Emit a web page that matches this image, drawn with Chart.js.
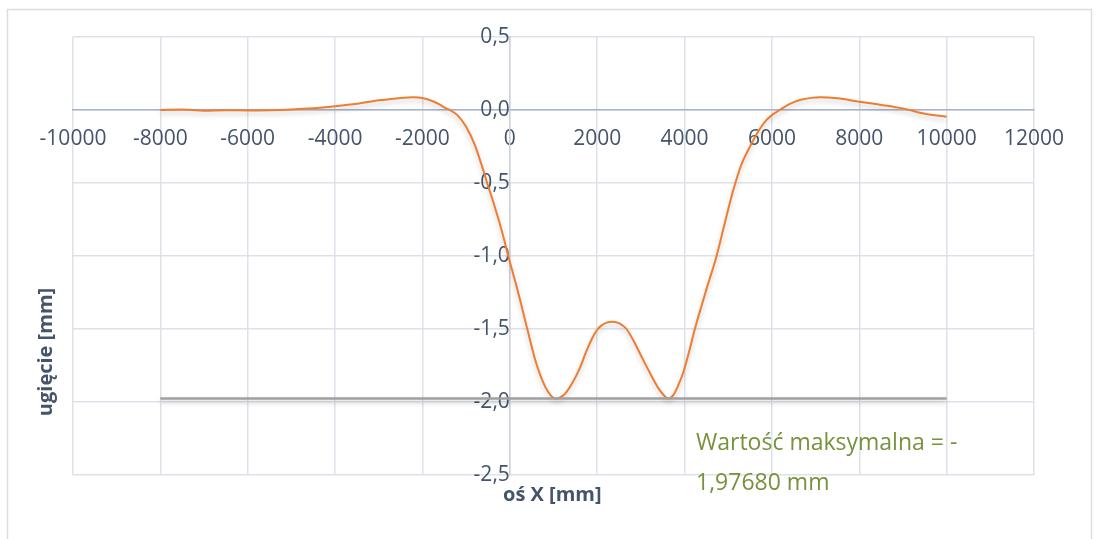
<!DOCTYPE html>
<html>
<head>
<meta charset="utf-8">
<script src="https://cdn.jsdelivr.net/npm/chart.js@4.4.1/dist/chart.umd.min.js"></script>
<style>
  body { margin: 0; background: #fff; }
  canvas { display: block; }
</style>
</head>
<body>
<canvas id="canvas" width="1097" height="539"></canvas>
<script>
// deflection along the beam
let xPos = [-8000, -7500, -7000, -6500, -6000, -5500, -5000, -4500, -4000, -3500,
  -3000, -2500, -2200, -2000, -1750, -1600, -1500, -1374, -1200, -1000,
  -800, -600, -519, -400, -200, 0, 200, 400, 600, 800,
  950, 1069, 1200, 1300, 1450, 1600, 1756, 1900, 2000, 2100,
  2200, 2340, 2480, 2580, 2672, 2824, 3000, 3206, 3400, 3530,
  3626, 3750, 3850, 3969, 4100, 4236, 4400, 4504, 4733, 4900,
  5000, 5114, 5300, 5496, 5700, 5878, 6000, 6183, 6400, 6641,
  6900, 7100, 7500, 8000, 8500, 9000, 9500, 10000];
let deflection = [0.000, 0.004, -0.005, -0.002, -0.003, -0.001, 0.004, 0.012, 0.026, 0.043,
  0.066, 0.083, 0.087, 0.082, 0.058, 0.036, 0.018, 0.000, -0.035, -0.115,
  -0.240, -0.420, -0.500, -0.610, -0.810, -1.040, -1.260, -1.500, -1.730, -1.890,
  -1.960, -1.977, -1.960, -1.930, -1.860, -1.770, -1.650, -1.555, -1.505, -1.475,
  -1.458, -1.450, -1.458, -1.475, -1.500, -1.575, -1.680, -1.800, -1.905, -1.955,
  -1.977, -1.950, -1.890, -1.800, -1.660, -1.500, -1.330, -1.225, -1.000, -0.800,
  -0.680, -0.550, -0.375, -0.251, -0.140, -0.068, -0.035, 0.000, 0.040, 0.068,
  0.083, 0.087, 0.080, 0.057, 0.035, 0.010, -0.025, -0.046];

// max value line
let maxLineX = [-8000, 10000];
let maxLineY = [-1.9768, -1.9768];

let xTicks = [-10000, 12000, 2000];   // min, max, step
let yTicks = [-2.5, 0.5, 0.5];

let xTitle = "oś X [mm]";
let yTitle = "ugięcie [mm]";
let noteLines = ["Wartość maksymalna = -", "1,97680 mm"];

let curve = xPos.map((x, i) => ({x: x, y: deflection[i]}));
let maxLine = maxLineX.map((x, i) => ({x: x, y: maxLineY[i]}));

Chart.defaults.font.family = "'Open Sans', sans-serif";
Chart.defaults.color = "#44546A";

function noPad(scale) {
    scale.paddingLeft = 0;
    scale.paddingRight = 0;
    scale.paddingTop = 0;
    scale.paddingBottom = 0;
}

let extras = {
    id: 'extras',
    beforeDraw(chart) {
        let ctx = chart.ctx;
        ctx.save();
        ctx.strokeStyle = "#D9DEE6";
        ctx.lineWidth = 1.5;
        ctx.strokeRect(7.5, 9.5, 1084, 560);
        ctx.restore();
    },
    beforeDatasetsDraw(chart) {
        // soft shadow under the lines, like the original
        let ctx = chart.ctx;
        ctx.save();
        ctx.shadowColor = "rgba(0,0,0,0.22)";
        ctx.shadowBlur = 5;
        ctx.shadowOffsetY = 3;
    },
    afterDatasetsDraw(chart) {
        chart.ctx.restore();
    },
    afterDraw(chart) {
        let ctx = chart.ctx;
        ctx.save();
        ctx.fillStyle = "#44546A";
        ctx.font = "bold 20px 'Open Sans'";
        ctx.textAlign = "left";
        ctx.textBaseline = "middle";
        ctx.fillText(xTitle, 503, 495);
        ctx.translate(46, 352);
        ctx.rotate(-Math.PI / 2);
        ctx.textAlign = "center";
        ctx.fillText(yTitle, 0, 0);
        ctx.restore();

        ctx.save();
        ctx.fillStyle = "#76923C";
        ctx.font = "23px 'Open Sans'";
        ctx.textAlign = "left";
        ctx.textBaseline = "middle";
        ctx.fillText(noteLines[0], 696, 443);
        ctx.fillText(noteLines[1], 696, 483);
        ctx.restore();
    }
};

let chart = new Chart(document.getElementById("canvas"), {
    type: 'line',
    data: {
        datasets: [{
            label: "max",
            data: maxLine,
            borderColor: "#A0A0A0",
            borderWidth: 2.5,
            pointRadius: 0
        }, {
            label: "ugięcie",
            data: curve,
            borderColor: "#ED7D31",
            borderWidth: 2,
            pointRadius: 0,
            cubicInterpolationMode: 'monotone'
        }]
    },
    options: {
        responsive: false,
        animation: false,
        layout: {padding: {left: 73, right: 63, top: 37, bottom: 64}},
        plugins: {legend: {display: false}, tooltip: {enabled: false}},
        scales: {
            x: {
                type: 'linear',
                position: {y: 0},
                min: xTicks[0], max: xTicks[1],
                afterFit: noPad,
                ticks: {
                    stepSize: xTicks[2], autoSkip: false, maxRotation: 0,
                    padding: 16, font: {size: 21},
                    callback: v => String(v)
                },
                grid: {color: "#DDE2EA", lineWidth: 1.5, drawTicks: false},
                border: {color: "#A8B3C8", width: 1.5}
            },
            y: {
                type: 'linear',
                position: {x: 0},
                min: yTicks[0], max: yTicks[1],
                afterFit: noPad,
                ticks: {
                    stepSize: yTicks[2], autoSkip: false,
                    padding: 12, font: {size: 21},
                    callback: v => v.toFixed(1).replace('.', ',')
                },
                grid: {color: "#DDE2EA", lineWidth: 1.5, drawTicks: false},
                border: {color: "#CCD3DE", width: 1.5}
            }
        }
    },
    plugins: [extras]
});
</script>
</body>
</html>
